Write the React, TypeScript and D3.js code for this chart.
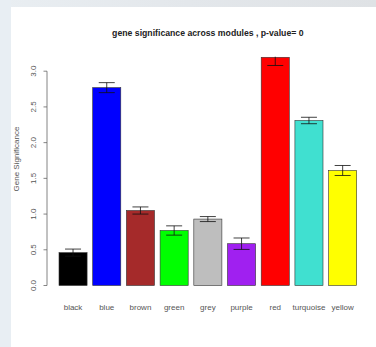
import React from "react";
import * as d3 from "d3";

const modules = ["black", "blue", "brown", "green", "grey", "purple", "red", "turquoise", "yellow"];
const significance = [0.46, 2.77, 1.05, 0.77, 0.93, 0.585, 3.195, 2.31, 1.61];
const stdErr = [0.05, 0.07, 0.05, 0.065, 0.035, 0.08, 0.115, 0.045, 0.07];
const barColors = ["#000000", "#0000ff", "#a52a2a", "#00ff00", "#bebebe", "#a020f0", "#ff0000", "#40e0d0", "#ffff00"];
const yTicks = [0, 0.5, 1, 1.5, 2, 2.5, 3];
const title = "gene significance across modules , p-value= 0";
const yLabel = "Gene Significance";

const W = 376;
const H = 347;
const plot = { left: 59, right: 356.7, top: 57, bottom: 285.5 };
const font = "'Liberation Sans', Arial, sans-serif";

export default function App() {
  const x = d3
    .scaleBand<string>()
    .domain(modules)
    .range([plot.left, plot.right])
    .paddingInner(0.2 / 1.2)
    .paddingOuter(0);
  const yMax = d3.max(significance) as number;
  const y = d3.scaleLinear().domain([0, 3]).range([plot.bottom, 71.2]);
  const clipTop = y(yMax) - 0.6;
  const axisX = 47;
  const cap = 8;

  return (
    <div style={{ position: "fixed", left: 0, top: 0 }}>
      <svg width={W} height={H} style={{ display: "block" }}>
        <defs>
          <clipPath id="plotClip">
            <rect x={0} y={clipTop} width={W} height={plot.bottom - clipTop + 2} />
          </clipPath>
          <linearGradient id="edgeTop" x1="0" x2="1" y1="0" y2="0">
            <stop offset="0" stopColor="#e9eef2" />
            <stop offset="0.5" stopColor="#e3e7eb" />
            <stop offset="1" stopColor="#dfe2e5" />
          </linearGradient>
        </defs>
        <rect x={0} y={0} width={W} height={H} fill="#ffffff" />
        <rect x={0} y={0} width={W} height={7} fill="url(#edgeTop)" />
        <rect x={0} y={0} width={11} height={H} fill="#e8eef3" />

        <text
          x={(plot.left + plot.right) / 2}
          y={36}
          textAnchor="middle"
          fontFamily={font}
          fontWeight="bold"
          fontSize={8.7}
          fill="#222"
        >
          {title}
        </text>

        <g clipPath="url(#plotClip)">
          {modules.map((m, i) => (
            <rect
              key={m}
              x={x(m)}
              y={y(significance[i])}
              width={x.bandwidth()}
              height={plot.bottom - y(significance[i])}
              fill={barColors[i]}
              stroke="#333"
              strokeWidth={0.6}
            />
          ))}
          {modules.map((m, i) => {
            const cx = (x(m) as number) + x.bandwidth() / 2;
            const lo = y(significance[i] - stdErr[i]);
            const hi = y(significance[i] + stdErr[i]);
            return (
              <g key={m} stroke="#111" strokeWidth={0.8} fill="none">
                <line x1={cx} x2={cx} y1={lo} y2={hi} />
                <line x1={cx - cap} x2={cx + cap} y1={lo} y2={lo} />
                <line x1={cx - cap} x2={cx + cap} y1={hi} y2={hi} />
              </g>
            );
          })}
        </g>

        <g stroke="#666" strokeWidth={0.8}>
          <line x1={axisX} x2={axisX} y1={y(0)} y2={y(3)} />
          {yTicks.map((t) => (
            <line key={t} x1={axisX - 3.5} x2={axisX} y1={y(t)} y2={y(t)} />
          ))}
        </g>
        {yTicks.map((t) => (
          <text
            key={t}
            transform={`translate(36,${y(t)}) rotate(-90)`}
            textAnchor="middle"
            fontFamily={font}
            fontSize={8}
            fill="#555"
          >
            {d3.format(".1f")(t)}
          </text>
        ))}
        <text
          transform={`translate(19,159) rotate(-90)`}
          textAnchor="middle"
          fontFamily={font}
          fontSize={8}
          fill="#555"
        >
          {yLabel}
        </text>

        {modules.map((m) => (
          <text
            key={m}
            x={(x(m) as number) + x.bandwidth() / 2}
            y={310}
            textAnchor="middle"
            fontFamily={font}
            fontSize={8}
            fill="#555"
          >
            {m}
          </text>
        ))}
      </svg>
    </div>
  );
}
